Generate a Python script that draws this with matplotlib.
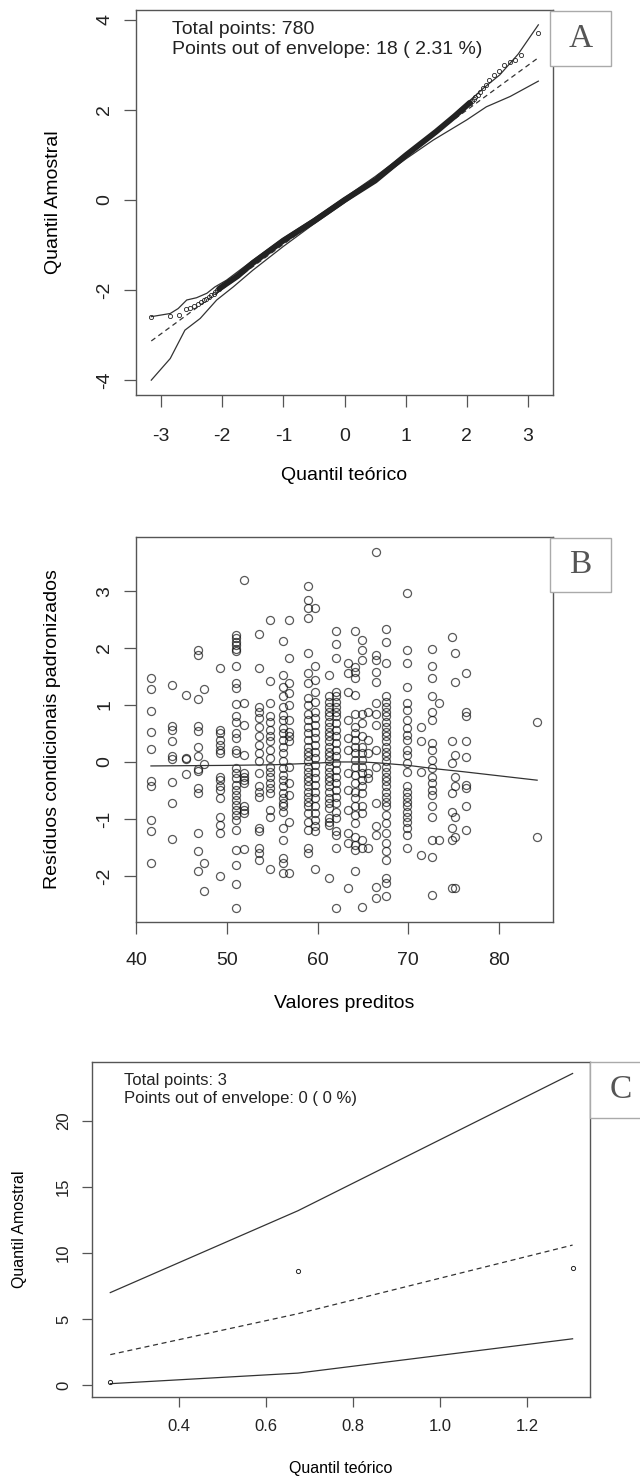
import matplotlib
matplotlib.use("Agg")
import matplotlib.pyplot as plt
from matplotlib.patches import Rectangle

plt.rcParams["font.family"] = ["Liberation Sans", "DejaVu Sans"]
plt.rcParams["axes.unicode_minus"] = False

W, H, DPI = 640, 1479, 100
FRAME = "#555555"
INK = "#222222"

# ── Panel A: normal QQ plot with simulated envelope ───────────────────────────
a_left_x = [-3.16, -2.86, -2.71, -2.60, -2.53, -2.46, -2.40, -2.35, -2.30, -2.26,
            -2.22, -2.18, -2.14, -2.11, -2.08, -2.05]
a_left_y = [-2.59, -2.57, -2.55, -2.43, -2.40, -2.36, -2.31, -2.27, -2.23, -2.20,
            -2.16, -2.12, -2.08, -2.04, -2.00, -1.97]
a_right_x = [2.05, 2.08, 2.11, 2.14, 2.18, 2.22, 2.27, 2.32, 2.37, 2.44, 2.52,
             2.61, 2.70, 2.79, 2.88, 3.17]
a_right_y = [2.16, 2.20, 2.24, 2.28, 2.33, 2.41, 2.48, 2.55, 2.66, 2.77, 2.87,
             2.99, 3.07, 3.10, 3.22, 3.70]
# dense middle of the 780 points (overlapping circles form a thick band)
a_band_x = [-2.05, -1.75, -1.5, -1.0, -0.5, 0.0, 0.5, 1.0, 1.5, 1.8, 2.05]
a_band_y = [-1.97, -1.69, -1.40, -0.90, -0.47, 0.0, 0.43, 0.99, 1.52, 1.86, 2.16]

a_upper_x = [-3.16, -2.85, -2.72, -2.58, -2.42, -2.25, -2.12, -1.93, -1.5, -1.0,
             -0.5, 0.0, 0.5, 1.0, 1.5, 2.0, 2.27, 2.54, 2.84, 3.17]
a_upper_y = [-2.59, -2.52, -2.41, -2.22, -2.17, -2.07, -1.93, -1.78, -1.34, -0.85,
             -0.41, 0.05, 0.52, 1.03, 1.55, 2.15, 2.48, 2.78, 3.24, 3.89]
a_lower_x = [-3.16, -2.85, -2.61, -2.36, -2.09, -1.82, -1.5, -1.0, -0.5, 0.0,
             0.5, 1.0, 1.45, 2.0, 2.32, 2.71, 3.17]
a_lower_y = [-4.00, -3.52, -2.89, -2.63, -2.22, -1.93, -1.56, -1.03, -0.53, -0.06,
             0.41, 0.91, 1.33, 1.78, 2.07, 2.30, 2.64]
a_mid_x = [-3.16, 3.17]
a_mid_y = [-3.13, 3.16]

# ── Panel B: standardized conditional residuals vs fitted values ─────────────
b_fitted = [41.65, 44.0, 45.5, 46.8, 47.5, 49.3, 51.05, 51.9, 53.5, 54.8, 56.2,
            56.9, 58.9, 59.7, 61.3, 62.0, 63.4, 64.1, 64.9, 65.6, 66.5, 67.5,
            69.9, 71.4, 72.6, 73.4, 74.8, 75.2, 76.4, 84.2]
b_resid = [
    [1.47, 1.28, 0.89, 0.52, 0.23, -0.33, -0.43, -1.02, -1.21, -1.78],
    [1.35, 0.64, 0.56, 0.37, 0.10, 0.05, -0.36, -0.72, -1.36],
    [1.18, 0.07, 0.05, -0.22],
    [1.97, 1.88, 1.11, 0.63, 0.55, 0.27, 0.10, -0.13, -0.15, -0.46, -0.55, -1.25,
     -1.57, -1.91],
    [1.28, -0.04, -1.77, -2.26],
    [1.65, 0.56, 0.50, 0.39, 0.30, 0.21, 0.15, -0.26, -0.32, -0.43, -0.49, -0.64,
     -0.96, -1.10, -1.25, -2.00],
    [2.23, 2.17, 2.11, 2.05, 1.99, 1.94, 1.69, 1.38, 1.29, 1.02, 0.80, 0.71, 0.50,
     0.42, 0.21, 0.15, -0.11, -0.20, -0.29, -0.40, -0.49, -0.58, -0.67, -0.75,
     -0.84, -0.93, -1.02, -1.19, -1.54, -1.81, -2.15, -2.57],
    [3.19, 1.03, 0.65, 0.12, -0.20, -0.26, -0.31, -0.37, -0.78, -0.84, -0.90, -1.53],
    [2.24, 1.65, 0.97, 0.88, 0.77, 0.62, 0.45, 0.30, 0.15, 0.01, -0.20, -0.43,
     -0.52, -0.61, -1.16, -1.22, -1.51, -1.60, -1.73],
    [2.49, 1.42, 1.04, 0.80, 0.71, 0.56, 0.45, 0.36, 0.21, 0.07, -0.08, -0.17,
     -0.26, -0.37, -0.46, -0.55, -0.84, -0.96, -1.88],
    [2.13, 1.53, 1.32, 1.15, 0.97, 0.82, 0.74, 0.59, 0.50, 0.39, 0.27, 0.15, 0.01,
     -0.11, -0.23, -0.32, -0.43, -0.55, -0.64, -0.72, -0.78, -0.87, -1.16, -1.37,
     -1.69, -1.78, -1.95],
    [2.50, 1.83, 1.38, 1.21, 1.00, 0.74, 0.53, 0.45, 0.36, -0.08, -0.37, -0.58,
     -1.05, -1.95],
    [3.09, 2.84, 2.70, 2.52, 1.91, 1.56, 1.38, 1.12, 1.00, 0.85, 0.74, 0.62, 0.50,
     0.39, 0.27, 0.18, 0.10, 0.01, -0.08, -0.17, -0.26, -0.34, -0.43, -0.52, -0.61,
     -0.70, -0.78, -0.90, -1.05, -1.19, -1.51, -1.60],
    [2.71, 1.69, 1.44, 1.23, 1.06, 0.88, 0.77, 0.65, 0.53, 0.42, 0.30, 0.18, 0.07,
     -0.05, -0.17, -0.29, -0.40, -0.52, -0.64, -0.78, -0.90, -1.02, -1.13, -1.22,
     -1.88],
    [1.52, 1.15, 1.06, 0.97, 0.88, 0.80, 0.71, 0.62, 0.53, 0.45, 0.36, 0.27, 0.18,
     0.10, 0.01, -0.08, -0.17, -0.26, -0.34, -0.43, -0.52, -0.64, -0.72, -0.81,
     -0.99, -1.05, -1.10, -2.03],
    [2.30, 2.08, 1.83, 1.23, 1.15, 1.06, 0.97, 0.88, 0.80, 0.68, 0.56, 0.45, 0.33,
     0.21, 0.10, -0.02, -0.14, -0.26, -0.37, -0.49, -0.61, -0.72, -0.87, -0.99,
     -1.22, -1.28, -1.51, -2.57],
    [1.73, 1.56, 1.23, 0.74, 0.42, 0.21, -0.20, -0.49, -0.84, -1.25, -1.43, -2.22],
    [2.30, 1.67, 1.58, 1.47, 1.18, 0.85, 0.62, 0.50, 0.39, 0.27, 0.15, 0.04, -0.08,
     -0.23, -0.37, -0.52, -0.64, -0.78, -0.93, -1.07, -1.31, -1.46, -1.54, -1.92],
    [2.15, 1.97, 1.79, 0.85, 0.68, 0.45, 0.27, 0.15, 0.04, -0.08, -0.20, -0.32,
     -0.43, -0.55, -0.78, -0.90, -1.37, -1.51, -2.54],
    [0.88, 0.39, 0.15, -0.20, -0.29, -1.51],
    [3.69, 1.88, 1.79, 1.58, 1.41, 1.03, 0.85, 0.65, 0.21, -0.08, -0.72, -1.13,
     -1.28, -2.19, -2.39],
    [2.33, 2.11, 1.73, 1.15, 1.06, 0.97, 0.88, 0.80, 0.71, 0.62, 0.53, 0.45, 0.36,
     0.27, 0.18, 0.10, 0.01, -0.08, -0.17, -0.26, -0.34, -0.43, -0.52, -0.61,
     -0.70, -0.78, -0.93, -1.07, -1.25, -1.43, -1.57, -1.72, -2.04, -2.13, -2.36],
    [2.97, 1.97, 1.74, 1.32, 1.04, 0.91, 0.74, 0.59, 0.47, 0.39, 0.21, 0.12, -0.02,
     -0.17, -0.43, -0.52, -0.61, -0.70, -0.78, -0.87, -0.96, -1.05, -1.16, -1.28,
     -1.51],
    [0.62, 0.37, -0.17, -1.63],
    [1.98, 1.68, 1.48, 1.15, 0.88, 0.74, 0.33, 0.21, 0.04, -0.11, -0.26, -0.37,
     -0.49, -0.58, -0.78, -0.96, -1.37, -1.66, -2.33],
    [1.03, -1.37],
    [2.20, 0.36, -0.02, -0.55, -0.87, -1.16, -1.37, -2.22],
    [1.92, 1.41, 0.12, -0.26, -0.43, -0.96, -1.31, -2.22],
    [1.56, 0.88, 0.80, 0.37, 0.08, -0.40, -0.46, -0.77, -1.19],
    [0.70, -1.31],
]
b_smooth_x = [41.65, 50, 55, 60, 62, 65, 67, 70, 73, 76, 84.2]
b_smooth_y = [-0.07, -0.06, -0.05, -0.02, 0.0, 0.0, -0.02, -0.06, -0.12, -0.17, -0.32]

# ── Panel C: half-normal QQ plot, 3 points ───────────────────────────────────
c_theo = [0.243, 0.674, 1.305]
c_sample = [0.2, 8.6, 8.9]
c_upper = [7.0, 13.2, 23.6]
c_mid = [2.3, 5.4, 10.6]
c_lower = [0.1, 0.9, 3.5]


def add_axes_px(fig, left, top, right, bottom):
    return fig.add_axes([left / W, 1 - bottom / H, (right - left) / W, (bottom - top) / H])


def style_axes(ax, fs, tick_len, xpad, ypad):
    for s in ax.spines.values():
        s.set_color(FRAME)
        s.set_linewidth(1.0)
    ax.tick_params(length=tick_len, width=0.9, color=FRAME, labelsize=fs, labelcolor="#222222")
    ax.tick_params(axis="x", pad=xpad)
    ax.tick_params(axis="y", pad=ypad, labelrotation=90)
    for lab in ax.get_yticklabels():
        lab.set_va("center")


def tag(fig, letter, x0, y0, w, h, fs=24):
    fig.add_artist(Rectangle((x0 / W, 1 - (y0 + h) / H), w / W, h / H,
                             transform=fig.transFigure, facecolor="white",
                             edgecolor="#aaaaaa", lw=1.0, zorder=10))
    fig.text((x0 + w / 2) / W, 1 - (y0 + h / 2) / H, letter, family="Liberation Serif",
             fontsize=fs, color="#555555", ha="center", va="center", zorder=11)


fig = plt.figure(figsize=(W / DPI, H / DPI), dpi=DPI, facecolor="white")

# Panel A
ax = add_axes_px(fig, 136, 10, 553, 395)
ax.plot(a_upper_x, a_upper_y, color="#333333", lw=0.9)
ax.plot(a_lower_x, a_lower_y, color="#333333", lw=0.9)
ax.plot(a_mid_x, a_mid_y, color="#333333", lw=0.9, ls=(0, (4, 3)))
ax.plot(a_band_x, a_band_y, color=INK, lw=4.2, solid_capstyle="round")
ax.plot(a_left_x + a_right_x, a_left_y + a_right_y, "o", ms=3, mfc="none",
        mec=INK, mew=0.6)
ax.set_xlim(-3.41, 3.41)
ax.set_ylim(-4.33, 4.22)
ax.set_xticks([-3, -2, -1, 0, 1, 2, 3])
ax.set_yticks([-4, -2, 0, 2, 4])
style_axes(ax, 14, 8.5, 15, 8)
ax.set_xlabel("Quantil teórico", fontsize=14)
ax.xaxis.label.set_va("center")
ax.xaxis.set_label_coords(0.5, (395 - 476) / 385)
ax.set_ylabel("Quantil Amostral", fontsize=14)
ax.yaxis.label.set_va("center")
ax.yaxis.set_label_coords((53 - 136) / 417, 0.5)
fig.text(172 / W, 1 - 29 / H, "Total points: 780", fontsize=14, va="center", color=INK)
fig.text(172 / W, 1 - 49 / H, "Points out of envelope: 18 ( 2.31 %)", fontsize=14,
         va="center", color=INK)
tag(fig, "A", 550, 11, 61, 55)

# Panel B
ax = add_axes_px(fig, 136, 537, 553, 922)
for xv, ys in zip(b_fitted, b_resid):
    ax.plot([xv] * len(ys), ys, "o", ms=5.8, mfc="none", mec="black", mew=0.9, alpha=0.65)
ax.plot(b_smooth_x, b_smooth_y, color="#333333", lw=0.9)
ax.set_xlim(40.0, 85.95)
ax.set_ylim(-2.81, 3.95)
ax.set_xticks([40, 50, 60, 70, 80])
ax.set_yticks([-2, -1, 0, 1, 2, 3])
style_axes(ax, 14, 8.5, 13, 8)
ax.set_xlabel("Valores preditos", fontsize=14)
ax.xaxis.label.set_va("center")
ax.xaxis.set_label_coords(0.5, (922 - 1004) / 385)
ax.set_ylabel("Resíduos condicionais padronizados", fontsize=14)
ax.yaxis.label.set_va("center")
ax.yaxis.set_label_coords((53 - 136) / 417, 0.5)
tag(fig, "B", 550, 538, 61, 54)

# Panel C
ax = add_axes_px(fig, 92, 1062, 590, 1397)
ax.plot(c_theo, c_upper, color="#333333", lw=0.9)
ax.plot(c_theo, c_lower, color="#333333", lw=0.9)
ax.plot(c_theo, c_mid, color="#333333", lw=0.9, ls=(0, (4, 3)))
ax.plot(c_theo, c_sample, "o", ms=3, mfc="none", mec=INK, mew=0.7)
ax.set_xlim(0.201, 1.345)
ax.set_ylim(-0.91, 24.47)
ax.set_xticks([0.4, 0.6, 0.8, 1.0, 1.2])
ax.set_xticklabels(["0.4", "0.6", "0.8", "1.0", "1.2"])
ax.set_yticks([0, 5, 10, 15, 20])
style_axes(ax, 12, 7, 9, 8)
ax.set_xlabel("Quantil teórico", fontsize=11.5)
ax.xaxis.label.set_va("center")
ax.xaxis.set_label_coords(0.5, (1397 - 1468) / 335)
ax.set_ylabel("Quantil Amostral", fontsize=11.5)
ax.yaxis.label.set_va("center")
ax.yaxis.set_label_coords((20 - 92) / 498, 0.5)
fig.text(124 / W, 1 - 1080 / H, "Total points: 3", fontsize=12, va="center", color=INK)
fig.text(124 / W, 1 - 1098 / H, "Points out of envelope: 0 ( 0 %)", fontsize=12,
         va="center", color=INK)
tag(fig, "C", 590, 1062, 61, 56)

fig.savefig("out.png", dpi=DPI, facecolor="white")
